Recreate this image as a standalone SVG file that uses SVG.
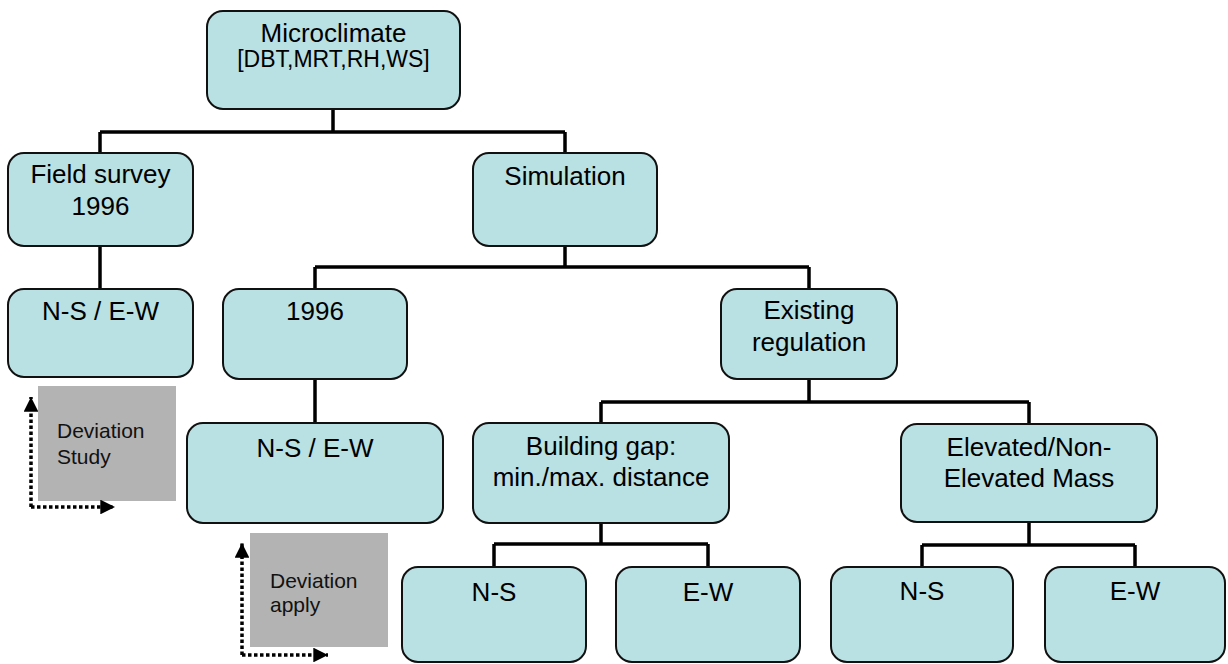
<svg xmlns="http://www.w3.org/2000/svg" width="1228" height="664" viewBox="0 0 1228 664">
<defs>
<style>
.box{fill:#b9e0e3;stroke:#111;stroke-width:2}
.t{font-family:"Liberation Sans",Arial,sans-serif;font-size:26px;fill:#000;text-anchor:middle}
.s{font-family:"Liberation Sans",Arial,sans-serif;font-size:23px;fill:#000;text-anchor:middle}
.d{font-family:"Liberation Sans",Arial,sans-serif;font-size:21px;fill:#111}
.gray{fill:#b3b3b3}
.conn{fill:none;stroke:#000;stroke-width:3.5}
.dot{fill:none;stroke:#000;stroke-width:3.5;stroke-dasharray:3.5 2.5}
</style>
<marker id="ah" viewBox="0 0 10 10" refX="10" refY="5" markerWidth="4.6" markerHeight="4.2" orient="auto" markerUnits="strokeWidth">
<path d="M0,0 L10,5 L0,10 Z" fill="#000"/>
</marker>
</defs>
<rect width="1228" height="664" fill="#fff"/>
<g id="connectors">
<path class="conn" d="M333,109 V132 M100,132 H565 M100,132 V153 M565,132 V153"/>
<path class="conn" d="M100,246 V289"/>
<path class="conn" d="M565,246 V267 M315,267 H809 M315,267 V289 M809,267 V289"/>
<path class="conn" d="M315,379 V423"/>
<path class="conn" d="M809,379 V402 M601,402 H1029 M601,402 V423 M1029,402 V424"/>
<path class="conn" d="M601,523 V544 M494,544 H708 M494,544 V567 M708,544 V567"/>
<path class="conn" d="M1029,522 V545 M922,545 H1135 M922,545 V567 M1135,545 V567"/>
</g>
<g id="microclimate"><rect class="box" x="207" y="11" width="253" height="98" rx="16"/><text class="t" x="333.5" y="42">Microclimate</text><text class="s" x="333.5" y="67">[DBT,MRT,RH,WS]</text></g>
<g id="field-survey"><rect class="box" x="8" y="153" width="185" height="93" rx="16"/><text class="t" x="100.5" y="183">Field survey</text><text class="t" x="100.5" y="215">1996</text></g>
<g id="simulation"><rect class="box" x="473" y="153" width="184" height="93" rx="16"/><text class="t" x="565" y="185">Simulation</text></g>
<g id="ns-ew-field"><rect class="box" x="8" y="289" width="185" height="88" rx="16"/><text class="t" x="100.5" y="320">N-S / E-W</text></g>
<g id="sim-1996"><rect class="box" x="223" y="289" width="184" height="90" rx="16"/><text class="t" x="315" y="320">1996</text></g>
<g id="existing-regulation"><rect class="box" x="721" y="289" width="176" height="90" rx="16"/><text class="t" x="809" y="319">Existing</text><text class="t" x="809" y="351">regulation</text></g>
<g id="ns-ew-1996"><rect class="box" x="187" y="423" width="256" height="100" rx="16"/><text class="t" x="315" y="457">N-S / E-W</text></g>
<g id="building-gap"><rect class="box" x="473" y="423" width="256" height="100" rx="16"/><text class="t" x="601" y="455">Building gap:</text><text class="t" x="601" y="486">min./max. distance</text></g>
<g id="elevated"><rect class="box" x="901" y="424" width="256" height="98" rx="16"/><text class="t" x="1029" y="456">Elevated/Non-</text><text class="t" x="1029" y="487">Elevated Mass</text></g>
<g id="gap-ns"><rect class="box" x="402" y="567" width="184" height="95" rx="16"/><text class="t" x="494" y="601">N-S</text></g>
<g id="gap-ew"><rect class="box" x="616" y="567" width="184" height="95" rx="16"/><text class="t" x="708" y="601">E-W</text></g>
<g id="elev-ns"><rect class="box" x="831" y="567" width="182" height="95" rx="16"/><text class="t" x="922" y="600">N-S</text></g>
<g id="elev-ew"><rect class="box" x="1045" y="567" width="180" height="95" rx="16"/><text class="t" x="1135" y="600">E-W</text></g>
<g id="deviation-study"><rect class="gray" x="38" y="386" width="138" height="115"/><text class="d" x="57" y="438">Deviation</text><text class="d" x="57" y="464">Study</text>
<path class="dot" d="M31,507 V397" marker-end="url(#ah)"/><path class="dot" d="M31,507 H115" marker-end="url(#ah)"/></g>
<g id="deviation-apply"><rect class="gray" x="250" y="533" width="138" height="114"/><text class="d" x="270" y="588">Deviation</text><text class="d" x="270" y="612">apply</text>
<path class="dot" d="M242,655 V543" marker-end="url(#ah)"/><path class="dot" d="M242,655 H328" marker-end="url(#ah)"/></g>
</svg>
